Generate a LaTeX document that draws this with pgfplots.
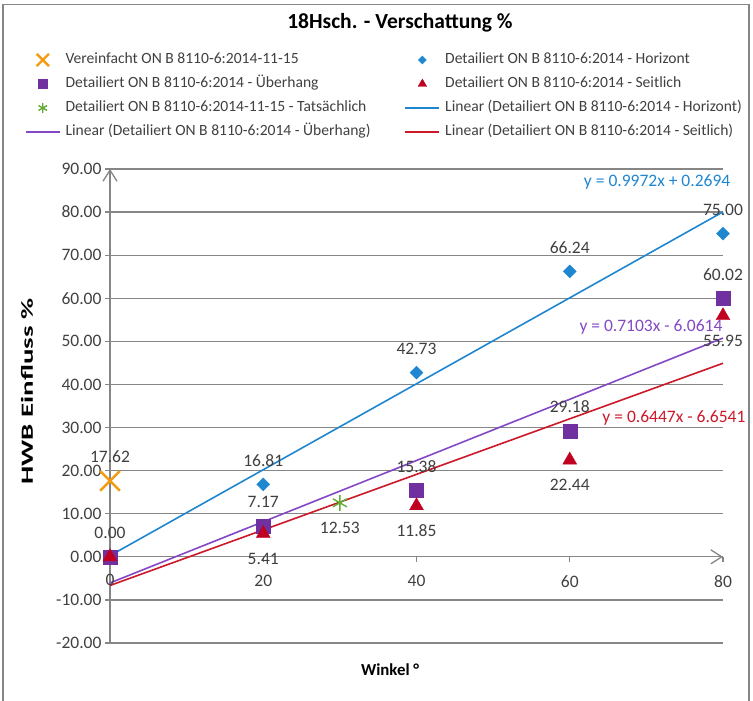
\documentclass[border=0pt]{standalone}
\usepackage{pgfplots}
\pgfplotsset{compat=1.18}
\usepackage{fontspec}
\setmainfont{Carlito}
\usetikzlibrary{arrows.meta}
\definecolor{axgray}{RGB}{134,134,134}
\definecolor{txtgray}{RGB}{64,64,64}
\definecolor{cblue}{RGB}{31,134,208}
\definecolor{cpurple}{RGB}{112,48,160}
\definecolor{cpurpleL}{RGB}{132,72,196}
\definecolor{cred}{RGB}{192,0,32}
\definecolor{credL}{RGB}{204,24,40}
\definecolor{corange}{RGB}{243,156,18}
\definecolor{cgreen}{RGB}{96,172,52}
\newcommand{\lblfont}{\fontsize{17.5bp}{20bp}\selectfont}
\pgfplotsset{
  lblabove/.style={nodes near coords, point meta=explicit symbolic,
    nodes near coords style={font=\lblfont, text=txtgray, anchor=center, yshift=24bp}},
  lblbelow/.style={nodes near coords, point meta=explicit symbolic,
    nodes near coords style={font=\lblfont, text=txtgray, anchor=center, yshift=-25bp}},
}
\begin{document}
\begin{tikzpicture}
\useasboundingbox (-110bp,-58bp) rectangle (643bp,643bp);
\draw[axgray, line width=1.2bp] (-107bp,-70bp) -- (-107bp,638.5bp) -- (639bp,638.5bp) -- (639bp,-70bp);
\begin{axis}[
  scale only axis, width=613bp, height=474bp,
  xmin=0, xmax=80, ymin=-20, ymax=90,
  clip=false,
  axis x line=middle, axis y line=left,
  axis line style={draw=axgray, line width=1.3bp},
  x axis line style={-{Straight Barb[length=11bp,width=14bp,line width=1.3bp]}},
  y axis line style={-{Straight Barb[length=11bp,width=14bp,line width=1.3bp]}},
  xtick={0,20,40,60,80}, ytick={-20,-10,...,90},
  tick align=outside, major tick length=5bp,
  tick style={draw=axgray, line width=1.3bp},
  ymajorgrids, grid style={draw=axgray, line width=1.3bp},
  tick label style={font=\lblfont, text=txtgray},
  /pgf/number format/assume math mode=true,
  yticklabel style={/pgf/number format/.cd, fixed, fixed zerofill, precision=2},
  xticklabel style={yshift=-10bp},
  xlabel={\bfseries Winkel °},
  every axis x label/.style={at={(axis description cs:0.457,0)}, anchor=center, yshift=-27bp,
    font=\fontsize{16.8bp}{19bp}\selectfont, text=black},
  ylabel={\scalebox{1.7}[1]{\bfseries HWB Einfluss \%}},
  every axis y label/.style={at={(axis description cs:0,0.53)}, anchor=center, xshift=-83bp, rotate=90,
    font=\fontsize{17bp}{19bp}\selectfont, text=black},
  legend columns=2,
  legend cell align=left,
  legend style={at={(axis description cs:0,1)}, anchor=north west, xshift=-85bp, yshift=118.25bp,
    draw=none, fill=none, inner sep=0pt, outer sep=0pt, column sep=0pt, row sep=5.5bp,
    font=\fontsize{15.6bp}{18bp}\selectfont, text=txtgray,
    nodes={inner sep=2bp, text height=11bp, text depth=3.5bp},
    /tikz/every odd column/.style={column sep=3bp}},
  legend image code/.code={\draw[mark repeat=2,mark phase=2,#1] plot coordinates {(0bp,0bp) (17bp,0bp) (34bp,0bp)};},
  legend image post style={/tikz/every mark/.append style={scale=0.62}},
]
% Vereinfacht
\addplot[only marks, mark=x, mark size=14bp, color=corange, line width=2.4bp, lblabove]
  coordinates {(0,17.62) [17.62]};
\addlegendentry{\makebox[337bp][l]{Vereinfacht ON B 8110-6:2014-11-15}}
% Horizont
\addplot[only marks, mark=square*, mark size=4.6bp, mark options={rotate=45}, color=cblue, lblabove]
  coordinates {(0,0) [0.00] (20,16.81) [16.81] (40,42.73) [42.73] (60,66.24) [66.24] (80,75.00) [75.00]};
\addlegendentry{Detailiert ON B 8110-6:2014 - Horizont}
% Ueberhang
\addplot[only marks, mark=square*, mark size=7bp, color=cpurple, lblabove]
  coordinates {(0,0) [] (20,7.17) [7.17] (40,15.38) [15.38] (60,29.18) [29.18] (80,60.02) [60.02]};
\addlegendentry{\makebox[337bp][l]{Detailiert ON B 8110-6:2014 - Überhang}}
% Seitlich
\addplot[only marks, mark=triangle*, mark size=8bp, color=cred, lblbelow]
  coordinates {(0,0) [] (20,5.41) [5.41] (40,11.85) [11.85] (60,22.44) [22.44] (80,55.95) [55.95]};
\addlegendentry{Detailiert ON B 8110-6:2014 - Seitlich}
% Tatsaechlich
\addplot[only marks, mark=asterisk, mark size=8bp, color=cgreen, line width=1.4bp, lblbelow]
  coordinates {(30,12.53) [12.53]};
\addlegendentry{\makebox[337bp][l]{Detailiert ON B 8110-6:2014-11-15 - Tatsächlich}}
% Trendlines
\addplot[cblue, line width=1.6bp] coordinates {(0,0.2694) (80,80.0454)};
\addlegendentry{Linear (Detailiert ON B 8110-6:2014 - Horizont)}
\addplot[cpurpleL, line width=1.6bp] coordinates {(0,-6.0614) (80,50.7626)};
\addlegendentry{\makebox[337bp][l]{Linear (Detailiert ON B 8110-6:2014 - Überhang)}}
\addplot[credL, line width=1.6bp] coordinates {(0,-6.6541) (80,44.9219)};
\addlegendentry{Linear (Detailiert ON B 8110-6:2014 - Seitlich)}
\node[font=\lblfont, text=cblue] at (axis cs:71.4,87.0) {y = 0.9972x + 0.2694};
\node[font=\lblfont, text=cpurpleL] at (axis cs:70.6,53.4) {y = 0.7103x - 6.0614};
\node[font=\lblfont, text=credL] at (axis cs:73.6,32.1) {y = 0.6447x - 6.6541};
\node[font=\lblfont, text=txtgray, anchor=center, yshift=-23bp] at (axis cs:0,0) {0};
\end{axis}
\node[font=\fontsize{21.5bp}{25bp}\selectfont\bfseries, text=black, anchor=center] at (290bp,620bp) {18Hsch. - Verschattung \%};
\end{tikzpicture}
\end{document}
